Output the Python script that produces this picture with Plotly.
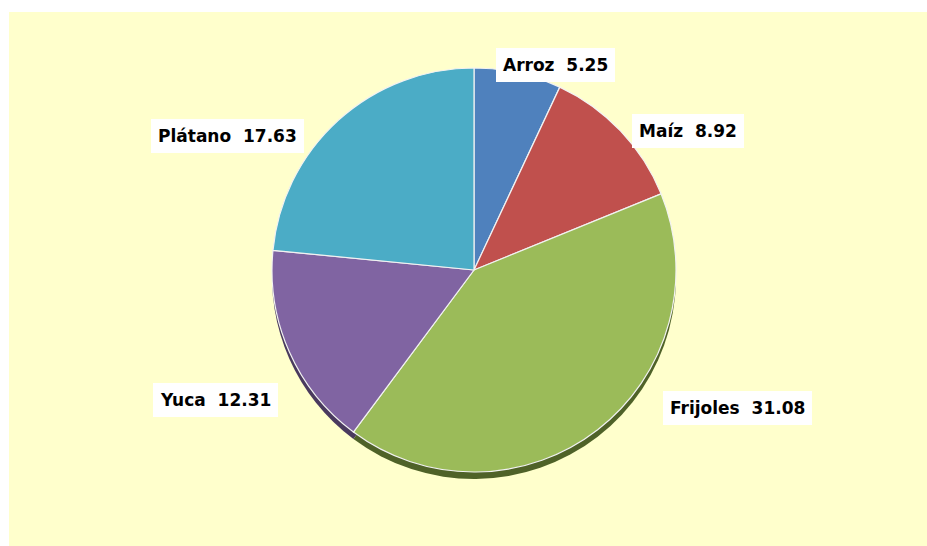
import math
import plotly.graph_objects as go

# Data
categories = ["Arroz", "Maíz", "Frijoles", "Yuca", "Plátano"]
values = [5.25, 8.92, 31.08, 12.31, 17.63]

# Styles
colors = ["#4F81BD", "#C0504D", "#9BBB59", "#8064A2", "#4BACC6"]
shadow_colors = ["#2E4A6E", "#6E2E2C", "#4F6228", "#4A3A5E", "#2B6373"]
W, H = 927, 546
CX, CY, R = 474, 270, 202  # pie centre / radius in pixels
SHADOW = 7
# label box centres (pixels)
label_center = [(555, 65), (688, 131), (737, 408), (215, 400), (227, 136)]

def dom_x(cx, r):
    return [(cx - r) / W, (cx + r) / W]

def dom_y(cy, r):
    return [(H - cy - r) / H, (H - cy + r) / H]

fig = go.Figure()
fig.add_trace(go.Pie(
    labels=categories, values=values, sort=False, direction="clockwise",
    rotation=0, textinfo="none", hoverinfo="skip", showlegend=False,
    marker=dict(colors=shadow_colors, line=dict(width=0)),
    domain=dict(x=dom_x(CX, R), y=dom_y(CY + SHADOW, R)),
))
fig.add_trace(go.Pie(
    labels=categories, values=values, sort=False, direction="clockwise",
    rotation=0, textinfo="none", showlegend=False,
    marker=dict(colors=colors, line=dict(color="#F2F2F2", width=1.2)),
    domain=dict(x=dom_x(CX, R), y=dom_y(CY, R)),
))

total = sum(values)
cum = 0.0
annotations = []
for cat, v, (lx, ly) in zip(categories, values, label_center):
    mid = (cum + v / 2) / total * 2 * math.pi
    cum += v
    # anchor on the slice edge at its mid angle, label shifted out from it
    px = CX + R * math.sin(mid)
    py = CY - R * math.cos(mid)
    annotations.append(dict(
        x=px / W, y=(H - py) / H, xref="paper", yref="paper",
        xanchor="center", yanchor="middle",
        text=f"<b>{cat}\u00a0\u00a0{v:.2f}</b>", showarrow=False,
        xshift=lx - px, yshift=py - ly, bgcolor="white", borderpad=7,
        borderwidth=0,
        font=dict(family="DejaVu Sans", size=17, color="black"),
    ))

fig.update_layout(
    width=W, height=H,
    margin=dict(l=0, r=0, t=0, b=0),
    paper_bgcolor="white",
    shapes=[dict(type="rect", xref="paper", yref="paper",
                 x0=9 / W, x1=1, y0=0, y1=1 - 12 / H,
                 fillcolor="#FFFFCC", line=dict(width=0), layer="below")],
    annotations=annotations,
)

fig.write_html(
    "out.html",
    config={"displayModeBar": False},
    post_script="document.body.style.margin='0';document.body.style.overflow='hidden';",
)
